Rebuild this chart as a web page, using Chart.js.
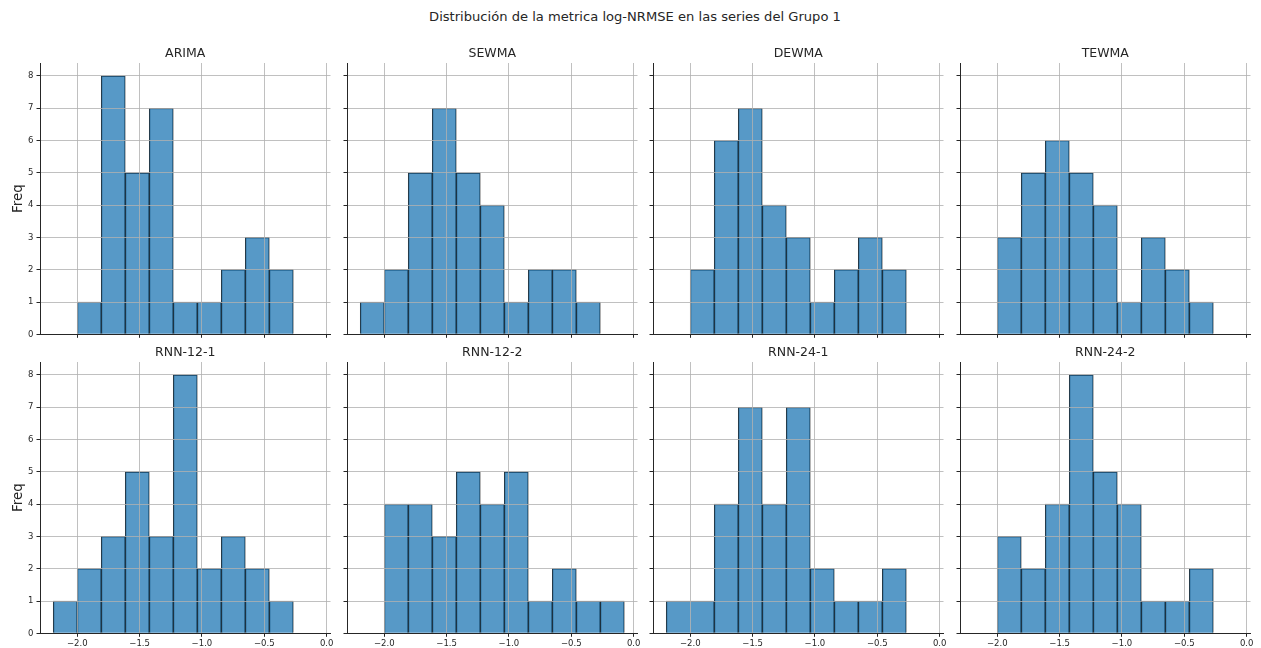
<!DOCTYPE html>
<html>
<head>
<meta charset="utf-8">
<script src="https://cdn.jsdelivr.net/npm/chart.js@4.4.1/dist/chart.umd.min.js"></script>
<style>
  html, body { margin: 0; padding: 0; background: #ffffff; }
  #fig { position: relative; width: 1261px; height: 648px; overflow: hidden; font-family: "DejaVu Sans", sans-serif; }
  #suptitle { position: absolute; left: 0; top: 8px; width: 1270px; text-align: center; font-size: 13.1px; line-height: 18px; color: #262626; }
  canvas { position: absolute; }
</style>
</head>
<body>
<div id="fig">
  <div id="suptitle">Distribución de la metrica log-NRMSE en las series del Grupo 1</div>
</div>
<script>
// Shared histogram bin edges (log-NRMSE)
const binEdges = [-2.1925, -2.0, -1.8075, -1.615, -1.4225, -1.23, -1.0375, -0.845, -0.6525, -0.46, -0.2675, -0.075];

// Model names, one panel each
const models = ['ARIMA', 'SEWMA', 'DEWMA', 'TEWMA', 'RNN-12-1', 'RNN-12-2', 'RNN-24-1', 'RNN-24-2'];

// Counts per bin for every model
const arimaCounts  = [0, 1, 8, 5, 7, 1, 1, 2, 3, 2, 0];
const sewmaCounts  = [1, 2, 5, 7, 5, 4, 1, 2, 2, 1, 0];
const dewmaCounts  = [0, 2, 6, 7, 4, 3, 1, 2, 3, 2, 0];
const tewmaCounts  = [0, 3, 5, 6, 5, 4, 1, 3, 2, 1, 0];
const rnn121Counts = [1, 2, 3, 5, 3, 8, 2, 3, 2, 1, 0];
const rnn122Counts = [0, 4, 4, 3, 5, 4, 5, 1, 2, 1, 1];
const rnn241Counts = [1, 1, 4, 7, 4, 7, 2, 1, 1, 2, 0];
const rnn242Counts = [0, 3, 2, 4, 8, 5, 4, 1, 1, 2, 0];

// Tick labels
const xTicks = [-2.0, -1.5, -1.0, -0.5, 0.0];
const yTicks = [0, 1, 2, 3, 4, 5, 6, 7, 8];

// Axis ranges
const xRange = [-2.2985, 0.031];
const yRange = [0, 8.4];

const countsByModel = [arimaCounts, sewmaCounts, dewmaCounts, tewmaCounts,
                       rnn121Counts, rnn122Counts, rnn241Counts, rnn242Counts];

const FONT = '"DejaVu Sans", sans-serif';
const TEXT = '#262626';
const GRID = 'rgba(176,176,176,0.8)';
const BAR_FILL = 'rgba(31,119,180,0.75)';
const BAR_EDGE = 'rgba(0,0,0,0.85)';
const EDGE_W = 0.75;

// layout of the 2 x 4 grid of panels
const canvasLefts = [0, 307, 613, 920];
const canvasTops = [40, 339];
const CANVAS_W = 343, CANVAS_H = 312;
const Y_AXIS_W = 40, TITLE_H = 23, PLOT_H = 271.3, RIGHT_PAD = 12.5;

const fig = document.getElementById('fig');

function fmtTick(v) {
  return Number(v).toFixed(1).replace('-', '\u2212');
}

models.forEach((name, i) => {
  const row = Math.floor(i / 4), col = i % 4;
  const counts = countsByModel[i];
  const canvas = document.createElement('canvas');
  canvas.width = CANVAS_W;
  canvas.height = CANVAS_H;
  canvas.style.left = canvasLefts[col] + 'px';
  canvas.style.top = canvasTops[row] + 'px';
  canvas.style.width = CANVAS_W + 'px';
  canvas.style.height = CANVAS_H + 'px';
  fig.appendChild(canvas);

  const points = counts.map((c, k) => ({ x: (binEdges[k] + binEdges[k + 1]) / 2, y: c }));
  // two equal neighbouring bins at the left of RNN-24-1 are drawn as one block
  const joinFirstPair = name === 'RNN-24-1';

  new Chart(canvas, {
    type: 'bar',
    data: {
      datasets: [{
        data: points,
        backgroundColor: BAR_FILL,
        borderColor: BAR_EDGE,
        borderWidth: (ctx) => {
          if (joinFirstPair && ctx.dataIndex === 0) return { left: EDGE_W, top: EDGE_W, right: 0, bottom: 0 };
          if (joinFirstPair && ctx.dataIndex === 1) return { left: 0, top: EDGE_W, right: EDGE_W, bottom: 0 };
          return { left: EDGE_W, top: EDGE_W, right: EDGE_W, bottom: 0 };
        },
        borderSkipped: false,
        barPercentage: 1,
        categoryPercentage: 1
      }]
    },
    options: {
      responsive: false,
      animation: false,
      devicePixelRatio: 1,
      layout: { padding: { left: 0, right: RIGHT_PAD, top: 0, bottom: 0 } },
      plugins: {
        legend: { display: false },
        tooltip: { enabled: false },
        title: {
          display: true,
          fullSize: false,
          text: name,
          color: TEXT,
          font: { family: FONT, size: 12.5, weight: 'normal', lineHeight: 1.2 },
          padding: { top: 5.8, bottom: 2.2 }
        }
      },
      scales: {
        x: {
          type: 'linear',
          offset: false,
          min: xRange[0],
          max: xRange[1],
          afterBuildTicks: (s) => { s.ticks = xTicks.map(v => ({ value: v })); },
          afterFit: (s) => {
            s.height = CANVAS_H - TITLE_H - PLOT_H;
            s.paddingLeft = 0;
            s.paddingRight = 0;
          },
          grid: { offset: false, color: GRID, lineWidth: 1, z: 1, drawTicks: true, tickLength: 3.5, tickColor: TEXT, tickWidth: 1 },
          border: { display: true, color: TEXT, width: 1, z: 2 },
          ticks: {
            display: row === 1,
            callback: (v) => fmtTick(v),
            color: TEXT,
            font: { family: FONT, size: 8.5 },
            padding: 2,
            maxRotation: 0,
            autoSkip: false
          }
        },
        y: {
          min: yRange[0],
          max: yRange[1],
          afterBuildTicks: (s) => { s.ticks = yTicks.map(v => ({ value: v })); },
          afterFit: (s) => {
            s.width = Y_AXIS_W;
            s.paddingTop = 0;
            s.paddingBottom = 0;
          },
          grid: { color: GRID, lineWidth: 1, z: 1, drawTicks: true, tickLength: 3.5, tickColor: TEXT, tickWidth: 1 },
          border: { display: true, color: TEXT, width: 1, z: 2 },
          ticks: {
            display: col === 0,
            callback: (v) => String(v),
            color: TEXT,
            font: { family: FONT, size: 8.5 },
            padding: 3,
            autoSkip: false
          },
          title: {
            display: col === 0,
            text: 'Freq',
            color: TEXT,
            font: { family: FONT, size: 13.5, weight: 'normal', lineHeight: 1.2 },
            padding: { top: 10, bottom: 0 }
          }
        }
      }
    }
  });
});
</script>
</body>
</html>
